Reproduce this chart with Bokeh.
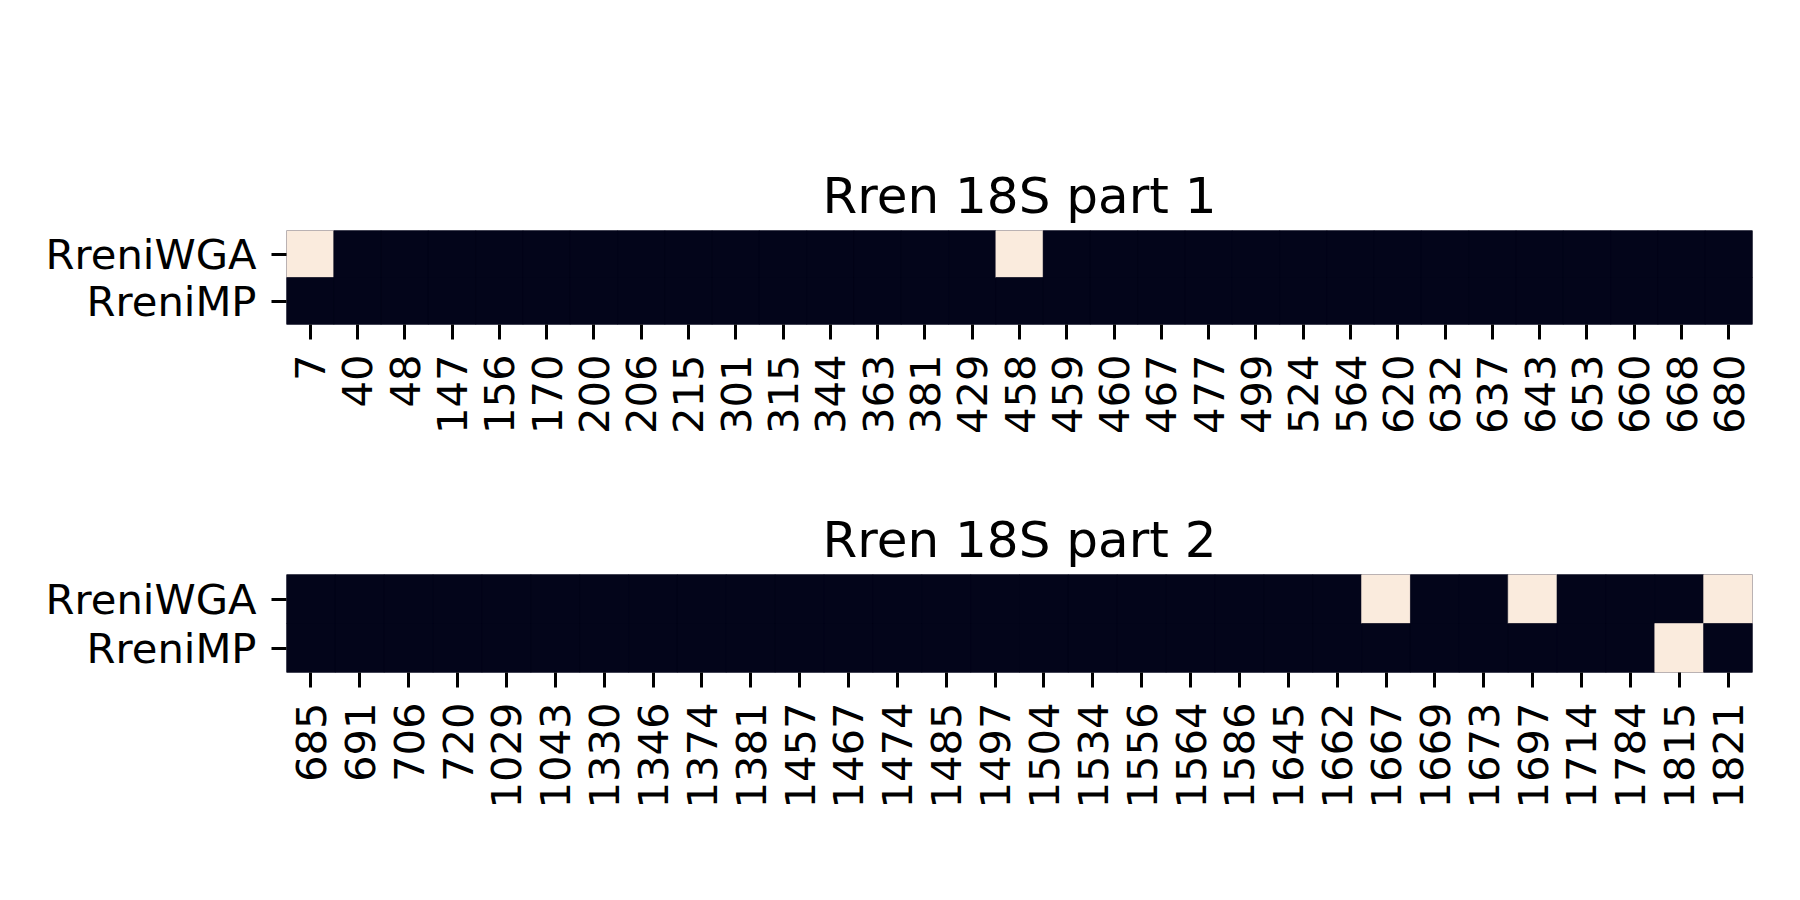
import math
from bokeh.plotting import figure
from bokeh.models import FactorRange, ColumnDataSource, LinearColorMapper
from bokeh.layouts import column
from bokeh.transform import transform
from bokeh.embed import file_html
from bokeh.resources import INLINE

# ---- data ----
samples = ["RreniWGA", "RreniMP"]

part1_positions = [7, 40, 48, 147, 156, 170, 200, 206, 215, 301, 315, 344, 363, 381,
                   429, 458, 459, 460, 467, 477, 499, 524, 564, 620, 632, 637, 643,
                   653, 660, 668, 680]
part1_wga = [1, 0, 0, 0, 0, 0, 0, 0, 0, 0, 0, 0, 0, 0, 0, 1, 0, 0, 0, 0, 0, 0, 0, 0,
             0, 0, 0, 0, 0, 0, 0]
part1_mp = [0] * 31

part2_positions = [685, 691, 706, 720, 1029, 1043, 1330, 1346, 1374, 1381, 1457, 1467,
                   1474, 1485, 1497, 1504, 1534, 1556, 1564, 1586, 1645, 1662, 1667,
                   1669, 1673, 1697, 1714, 1784, 1815, 1821]
part2_wga = [0, 0, 0, 0, 0, 0, 0, 0, 0, 0, 0, 0, 0, 0, 0, 0, 0, 0, 0, 0, 0, 0, 1, 0,
             0, 1, 0, 0, 0, 1]
part2_mp = [0, 0, 0, 0, 0, 0, 0, 0, 0, 0, 0, 0, 0, 0, 0, 0, 0, 0, 0, 0, 0, 0, 0, 0,
            0, 0, 0, 0, 1, 0]

titles = ["Rren 18S part 1", "Rren 18S part 2"]

DARK = "#03051A"
LIGHT = "#FAEBDD"
FONT = "DejaVu Sans"
TICK_FS = "41.7px"


def make_panel(title, positions, wga, mp, min_top, min_bottom, height):
    labels = [str(v) for v in positions]
    xs, ys, vals = [], [], []
    for lab, w, m in zip(labels, wga, mp):
        xs += [lab, lab]
        ys += ["RreniWGA", "RreniMP"]
        vals += [w, m]
    src = ColumnDataSource(dict(x=xs, y=ys, v=vals))
    mapper = LinearColorMapper(palette=[DARK, LIGHT], low=0, high=1)

    p = figure(width=1800, height=height, output_backend="svg", toolbar_location=None,
               x_range=FactorRange(factors=labels),
               y_range=FactorRange(factors=list(reversed(samples))),
               min_border_left=286, min_border_right=48,
               min_border_top=min_top, min_border_bottom=min_bottom,
               title=title)
    p.rect(x="x", y="y", width=1, height=1, source=src,
           fill_color=transform("v", mapper),
           line_color=transform("v", mapper), line_width=0.6)

    p.background_fill_color = DARK
    p.border_fill_color = "white"
    p.outline_line_color = None
    p.grid.visible = False

    p.title.align = "center"
    p.title.text_font = FONT
    p.title.text_font_size = "50px"
    p.title.text_font_style = "normal"
    p.title.text_color = "black"
    p.title.standoff = 12

    for ax in (p.xaxis[0], p.yaxis[0]):
        ax.axis_line_color = None
        ax.major_tick_in = 0
        ax.major_tick_out = 15
        ax.major_tick_line_width = 3
        ax.major_tick_line_color = "black"
        ax.minor_tick_line_color = None
        ax.major_label_text_font = FONT
        ax.major_label_text_font_size = TICK_FS
        ax.major_label_text_color = "black"
        ax.major_label_standoff = 15
    p.xaxis.major_label_orientation = math.pi / 2
    return p


p1 = make_panel(titles[0], part1_positions, part1_wga, part1_mp, 230, 126, 450)
p2 = make_panel(titles[1], part2_positions, part2_wga, part2_mp, 124, 228, 450)

layout = column(p1, p2, spacing=0)
open("out.html", "w").write(file_html(layout, INLINE))
